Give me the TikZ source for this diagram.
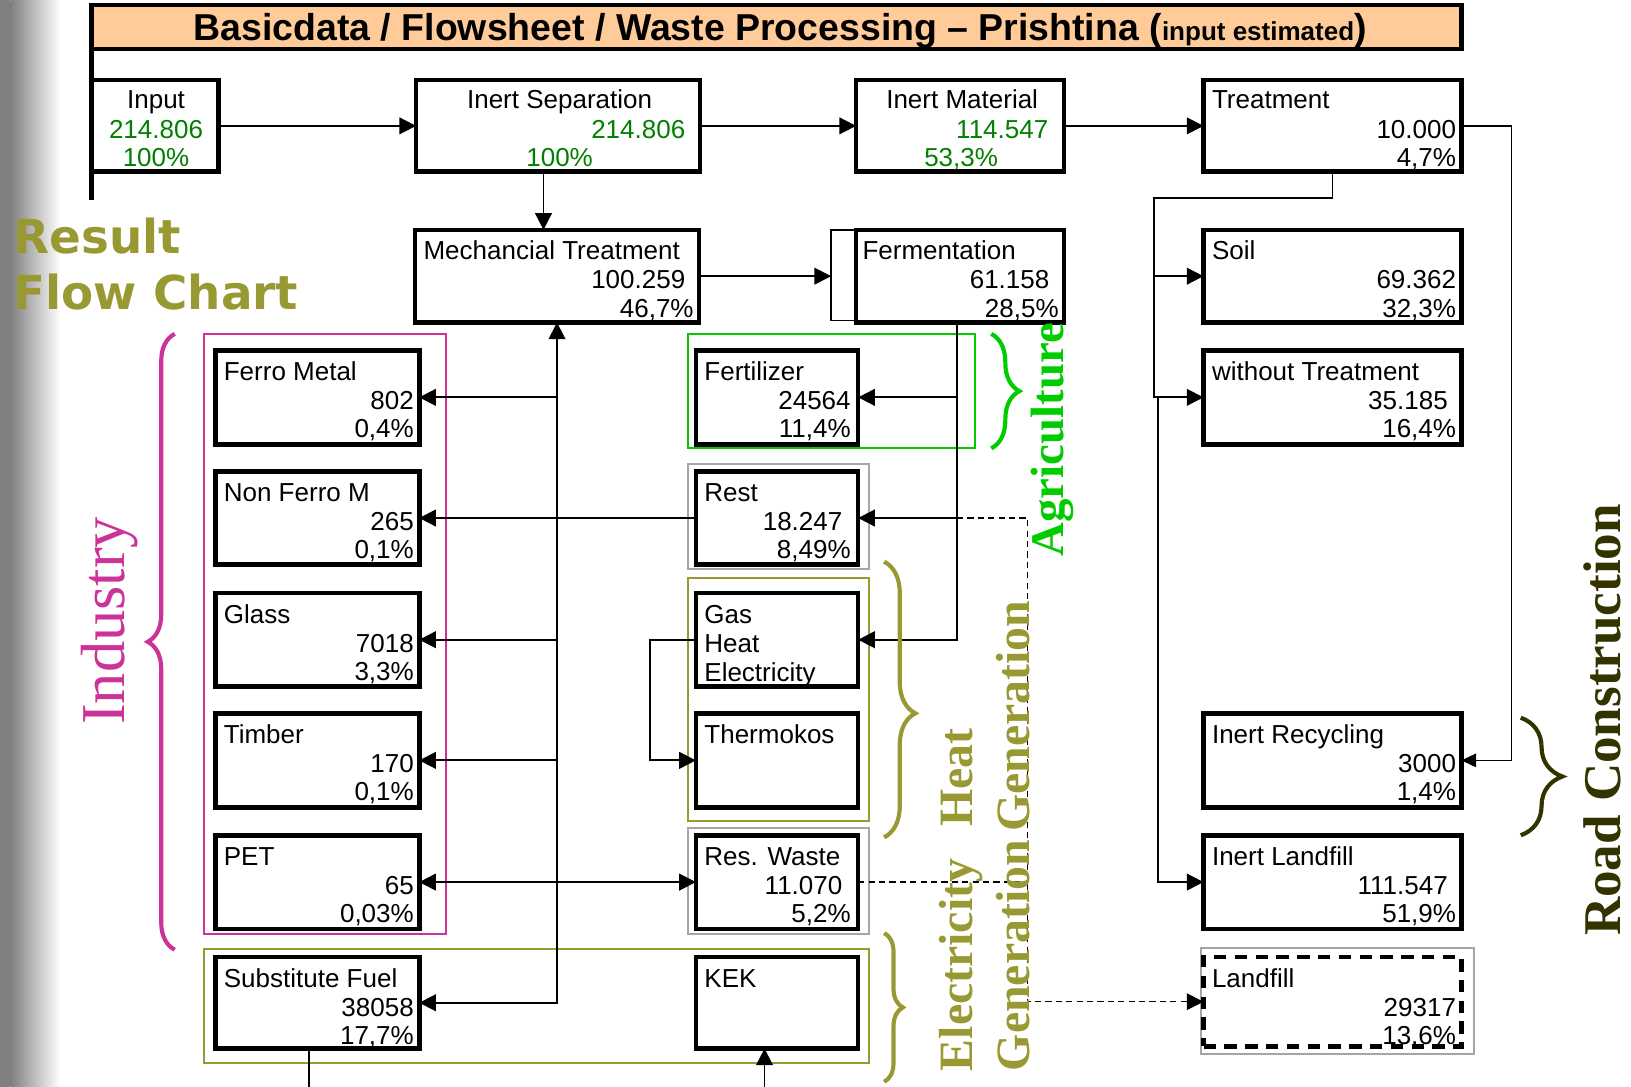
\documentclass[tikz,border=0pt]{standalone}
\usepackage{fontspec}
\setmainfont{Liberation Sans}
\newfontfamily\serffont{Liberation Serif}
\newfontfamily\djfont{DejaVu Sans}
\usetikzlibrary{arrows.meta,calc,shadows,decorations.pathreplacing}
\definecolor{peach}{RGB}{255,204,153}
\definecolor{grn}{RGB}{0,128,0}
\definecolor{mag}{RGB}{204,51,153}
\definecolor{agri}{RGB}{0,204,0}
\definecolor{oliv}{RGB}{153,153,51}
\definecolor{road}{RGB}{51,51,0}
\definecolor{grp}{RGB}{166,166,166}
\newcommand\flowbox[5]{\node[flowbox, minimum width=#4pt, minimum height=#5pt] (#1) at (#2,#3) {};}
\newcommand\grpbox[6]{\node[grpbox, draw=#6, minimum width=#4pt, minimum height=#5pt] (#1) at (#2,#3) {};}
\begin{document}
\begin{tikzpicture}[x=1pt,y=-1pt,
  flowbox/.style={draw, line width=4.5pt, fill=white, anchor=north west, inner sep=0pt, outer sep=0pt,
    drop shadow={shadow xshift=-2pt, shadow yshift=-2pt, opacity=1, fill=black}},
  grpbox/.style={line width=2pt, anchor=north west, inner sep=0pt, outer sep=0pt},
  txt/.style={inner sep=0pt, font=\fontsize{25}{28}\selectfont},
  L/.style={txt, anchor=base west},
  R/.style={txt, anchor=base east},
  C/.style={txt, anchor=base},
  G/.style={text=grn},
  conn/.style={line width=1.8pt},
  arr/.style={conn, -{Triangle[length=16pt,width=16pt]}},
  biarr/.style={conn, {Triangle[length=16pt,width=16pt]}-{Triangle[length=16pt,width=16pt]}},
  dconn/.style={line width=1.3pt, dash pattern=on 6pt off 4pt},
  darr/.style={dconn, -{Triangle[length=16pt,width=16pt]}},
  vtext/.style={rotate=90, anchor=base west, inner sep=0pt},
  brc/.style={decorate, decoration={brace, amplitude=#1}, line width=4pt},
]
\useasboundingbox (0,0) rectangle (1568,1045);
% left gradient
\fill[black!50] (0,0) rectangle (10,1045);
\shade[left color=black!50, right color=white] (10,0) rectangle (58,1045);

% title
\node[draw, line width=4pt, fill=peach, anchor=north west, inner sep=0pt, outer sep=0pt,
      minimum width=1317pt, minimum height=42pt] (title) at (88,5) {};
\node[anchor=base, inner sep=0pt, font=\bfseries\fontsize{36}{36}\selectfont] (titletext) at (750,39)
  {Basicdata / Flowsheet / Waste Processing – Prishtina ({\fontsize{25}{25}\selectfont input estimated})};
\coordinate (lvend) at (88,192);
\draw[line width=4pt] (title.south west) -- (lvend);

% Result Flow Chart
\node[anchor=base west, inner sep=0pt, text=oliv, font=\djfont\bfseries\fontsize{45}{45}\selectfont] (res1) at (13,244) {Result};
\node[anchor=base west, inner sep=0pt, text=oliv, font=\djfont\bfseries\fontsize{45}{45}\selectfont] (res2) at (13,298) {Flow Chart};

% group boxes
\grpbox{gind}{196}{321}{233}{577}{mag}
\grpbox{gagr}{661}{321}{276}{110}{agri}
\grpbox{grest}{661}{446}{174}{101}{grp}
\grpbox{gheat}{661}{556}{174}{233}{oliv}
\grpbox{gres}{661}{796}{174}{102}{grp}
\grpbox{gelec}{196}{912}{639}{110}{oliv}
\grpbox{gland}{1155}{911}{262}{102}{grp}

% boxes
\flowbox{input}{88}{77}{122}{88}
\flowbox{insep}{400}{77}{273}{88}
\flowbox{inmat}{823}{77}{200}{88}
\flowbox{treat}{1157}{77}{248}{88}
\flowbox{mech}{399}{221}{273}{89}
\node[draw, line width=1.5pt, anchor=north west, inner sep=0pt, outer sep=0pt, minimum width=224pt, minimum height=87pt] (fermo) at (799,221) {};
\flowbox{ferm}{823}{221}{200}{89}
\flowbox{soil}{1157}{221}{248}{89}
\flowbox{ferro}{207}{337}{196}{90}
\flowbox{fert}{669}{337}{156}{90}
\flowbox{wotr}{1157}{337}{248}{90}
\flowbox{nonferro}{207}{453}{196}{90}
\flowbox{rest}{669}{453}{156}{90}
\flowbox{glass}{207}{570}{196}{90}
\flowbox{gas}{669}{570}{156}{90}
\flowbox{timber}{207}{686}{196}{90}
\flowbox{thermo}{669}{686}{156}{90}
\flowbox{inrec}{1157}{686}{248}{90}
\flowbox{pet}{207}{803}{196}{90}
\flowbox{reswaste}{669}{803}{156}{90}
\flowbox{inland}{1157}{803}{248}{90}
\flowbox{subfuel}{207}{920}{196}{88}
\flowbox{kek}{669}{920}{156}{88}
\node[draw, line width=4pt, dash pattern=on 12pt off 8pt, anchor=north west, inner sep=0pt, outer sep=0pt,
      minimum width=248pt, minimum height=86pt] (landfill) at (1157,920) {};

% texts
\node[C] (t-in1) at (150,104) {Input};
\node[C,G] (t-in2) at (150,133) {214.806};
\node[C,G] (t-in3) at (150,160) {100\%};
\node[C] (t-is1) at (538,104) {Inert Separation};
\node[R,G] (t-is2) at (659,133) {214.806};
\node[C,G] (t-is3) at (538,160) {100\%};
\node[C] (t-im1) at (925,104) {Inert Material};
\node[R,G] (t-im2) at (1008,133) {114.547};
\node[C,G] (t-im3) at (924,160) {53,3\%};
\node[L] (t-tr1) at (1165,104) {Treatment};
\node[R] (t-tr2) at (1400,133) {10.000};
\node[R] (t-tr3) at (1400,160) {4,7\%};
\node[L] (t-me1) at (407,249) {Mechancial Treatment};
\node[R] (t-me2) at (659,277) {100.259};
\node[R] (t-me3) at (667,305) {46,7\%};
\node[L] (t-fe1) at (829,249) {Fermentation};
\node[R] (t-fe2) at (1009,277) {61.158};
\node[R] (t-fe3) at (1018,305) {28,5\%};
\node[L] (t-so1) at (1165,249) {Soil};
\node[R] (t-so2) at (1400,277) {69.362};
\node[R] (t-so3) at (1400,305) {32,3\%};
\node[L] (t-fm1) at (215,366) {Ferro Metal};
\node[R] (t-fm2) at (398,394) {802};
\node[R] (t-fm3) at (398,421) {0,4\%};
\node[L] (t-ft1) at (677,366) {Fertilizer};
\node[R] (t-ft2) at (818,394) {24564};
\node[R] (t-ft3) at (818,421) {11,4\%};
\node[L] (t-wt1) at (1165,366) {without Treatment};
\node[R] (t-wt2) at (1392,394) {35.185};
\node[R] (t-wt3) at (1400,421) {16,4\%};
\node[L] (t-nf1) at (215,482) {Non Ferro M};
\node[R] (t-nf2) at (398,510) {265};
\node[R] (t-nf3) at (398,537) {0,1\%};
\node[L] (t-re1) at (677,482) {Rest};
\node[R] (t-re2) at (810,510) {18.247};
\node[R] (t-re3) at (818,537) {8,49\%};
\node[L] (t-gl1) at (215,599) {Glass};
\node[R] (t-gl2) at (398,627) {7018};
\node[R] (t-gl3) at (398,654) {3,3\%};
\node[L] (t-ga1) at (677,599) {Gas};
\node[L] (t-ga2) at (677,627) {Heat};
\node[L] (t-ga3) at (677,655) {Electricity};
\node[L] (t-ti1) at (215,715) {Timber};
\node[R] (t-ti2) at (398,743) {170};
\node[R] (t-ti3) at (398,770) {0,1\%};
\node[L] (t-th1) at (677,715) {Thermokos};
\node[L] (t-ir1) at (1165,715) {Inert Recycling};
\node[R] (t-ir2) at (1400,743) {3000};
\node[R] (t-ir3) at (1400,770) {1,4\%};
\node[L] (t-pe1) at (215,832) {PET};
\node[R] (t-pe2) at (398,860) {65};
\node[R] (t-pe3) at (398,887) {0,03\%};
\node[L] (t-rw1) at (677,832) {Res. Waste};
\node[R] (t-rw2) at (810,860) {11.070};
\node[R] (t-rw3) at (818,887) {5,2\%};
\node[L] (t-il1) at (1165,832) {Inert Landfill};
\node[R] (t-il2) at (1392,860) {111.547};
\node[R] (t-il3) at (1400,887) {51,9\%};
\node[L] (t-sf1) at (215,949) {Substitute Fuel};
\node[R] (t-sf2) at (398,977) {38058};
\node[R] (t-sf3) at (398,1004) {17,7\%};
\node[L] (t-ke1) at (677,949) {KEK};
\node[L] (t-lf1) at (1165,949) {Landfill};
\node[R] (t-lf2) at (1400,977) {29317};
\node[R] (t-lf3) at (1400,1004) {13,6\%};

% connectors
\draw[arr] (input) -- (insep);
\draw[arr] (insep) -- (inmat);
\draw[arr] (inmat) -- (treat);
\draw[arr] ([xshift=-14pt]insep.south) -- ([xshift=-14pt]insep.south |- mech.north);
\draw[arr] (mech.east) -- (mech.east -| fermo.west);
\draw[biarr] (mech.south) |- (subfuel.east);
\draw[arr] (mech.south |- ferro.east) -- (ferro.east);
\draw[arr] (mech.south |- glass.east) -- (glass.east);
\draw[arr] (mech.south |- timber.east) -- (timber.east);
\draw[arr] (rest.west) -- (nonferro.east);
\draw[biarr] (pet.east) -- (reswaste.west);
\coordinate (fd) at ([xshift=-3pt]ferm.south);
\draw[arr] (fd) |- (gas.east);
\draw[arr] (fd |- fert.east) -- (fert.east);
\draw[arr] (fd |- rest.east) -- (rest.east);
\draw[arr] (gas.west) -- ++(-44,0) |- (thermo.west);
\coordinate (dx) at (988,700);
\draw[darr] (fd |- rest.east) -| (dx) |- (landfill.west);
\draw[dconn] (reswaste.east) -- (reswaste.east -| dx);
\coordinate (tv) at (1109,190);
\draw[arr] (treat.south) |- (tv) |- (wotr.west);
\draw[arr] (tv |- soil.west) -- (soil.west);
\coordinate (lv) at (1113,382);
\draw[arr] (lv) |- (inland.west);
\coordinate (rv) at (1453,400);
\draw[line width=1.3pt, -{Triangle[length=14pt,width=13pt]}] (treat.east) -| (rv) |- (inrec.east);
\coordinate (sfend) at (297,1045);
\draw[conn] (sfend |- subfuel.south) -- (sfend);
\coordinate (kekin) at (735,1045);
\draw[arr] (kekin) -- (kekin |- kek.south);

% braces
\draw[brc=26pt, mag] (168,913) -- (168,321);
\draw[brc=27pt, agri] (953,321) -- (953,431);
\draw[oliv, line width=4pt, decorate, decoration={brace, amplitude=30pt, aspect=0.55}] (850,540) -- (850,805);
\draw[brc=18pt, oliv] (850,897) -- (850,1040);
\draw[brc=40pt, road] (1462,690) -- (1462,803);

% vertical labels
\node[vtext, text=mag, font=\serffont\fontsize{60}{60}\selectfont] (industry) at (120,697) {Industry};
\node[vtext, text=agri, font=\serffont\bfseries\fontsize{45}{45}\selectfont] (agriculture) at (1022,535) {Agriculture};
\node[vtext, text=oliv, font=\serffont\bfseries\fontsize{46}{46}\selectfont] (heat) at (935,795) {Heat};
\node[vtext, text=oliv, font=\serffont\bfseries\fontsize{46}{46}\selectfont] (heatgen) at (990,800) {Generation};
\node[vtext, text=oliv, font=\serffont\bfseries\fontsize{46}{46}\selectfont] (elec) at (935,1030) {Electricity};
\node[vtext, text=oliv, font=\serffont\bfseries\fontsize{46}{46}\selectfont] (elecgen) at (990,1030) {Generation};
\node[vtext, text=road, font=\serffont\bfseries\fontsize{51}{51}\selectfont] (roadc) at (1558,900) {Road Construction};
\end{tikzpicture}
\end{document}
